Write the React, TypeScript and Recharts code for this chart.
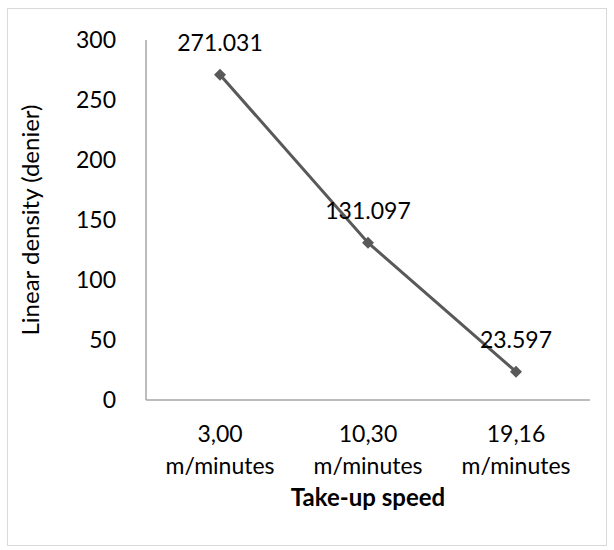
import React from 'react';
import { LineChart, Line, XAxis, YAxis, LabelList } from 'recharts';

const speeds = ['3,00', '10,30', '19,16'];
const speedUnit = 'm/minutes';
const density = [271.031, 131.097, 23.597];
const yTicks = [0, 50, 100, 150, 200, 250, 300];

const chartData = speeds.map((s, i) => ({ speed: s, density: density[i] }));

const FONT = 'Lato, "Open Sans", sans-serif';
const FS = 23;

const Diamond = (props: any) => {
  const { cx, cy } = props;
  if (cx == null || cy == null) return null;
  const r = 6;
  return (
    <polygon
      points={`${cx},${cy - r} ${cx + r},${cy} ${cx},${cy + r} ${cx - r},${cy}`}
      fill="#595959"
    />
  );
};

const SpeedTick = (props: any) => {
  const { x, y, payload } = props;
  return (
    <text x={x} y={y} textAnchor="middle" fontFamily={FONT} fontSize={FS} fill="#000">
      <tspan x={x} dy={34}>{payload.value}</tspan>
      <tspan x={x} dy={32}>{speedUnit}</tspan>
    </text>
  );
};

export default function App() {
  return (
    <div style={{ position: 'absolute', left: 0, top: 0, width: 614, height: 550, background: '#fff' }}>
      <div
        style={{
          position: 'absolute',
          left: 7,
          top: 8,
          width: 598,
          height: 536,
          border: '1px solid #d9d9d9',
        }}
      />
      <LineChart
        width={614}
        height={550}
        data={chartData}
        margin={{ top: 40, right: 24, left: 86, bottom: 70 }}
        style={{ position: 'absolute', left: 0, top: 0 }}
      >
        <XAxis
          dataKey="speed"
          tick={<SpeedTick />}
          tickLine={false}
          axisLine={{ stroke: '#a6a6a6', strokeWidth: 1.5 }}
          height={80}
          interval={0}
          padding={{ left: 74, right: 74 }}
          label={{
            value: 'Take-up speed',
            position: 'insideBottom',
            offset: -26,
            fontFamily: FONT,
            fontSize: 24,
            fontWeight: 'bold',
            fill: '#000',
          }}
        />
        <YAxis
          domain={[0, 300]}
          ticks={yTicks}
          width={60}
          tickLine={false}
          tickMargin={24}
          axisLine={{ stroke: '#a6a6a6', strokeWidth: 1.5 }}
          tick={{ fontFamily: FONT, fontSize: FS, fill: '#000' }}
          label={{
            value: 'Linear density (denier)',
            angle: -90,
            position: 'insideLeft',
            offset: -56,
            style: { textAnchor: 'middle' },
            fontFamily: FONT,
            fontSize: 24,
            fill: '#000',
          }}
        />
        <Line
          type="linear"
          dataKey="density"
          stroke="#595959"
          strokeWidth={3}
          dot={<Diamond />}
          activeDot={false}
          isAnimationActive={false}
        >
          <LabelList
            dataKey="density"
            position="top"
            offset={24}
            fontFamily={FONT}
            fontSize={FS}
            fill="#000"
            formatter={(v: any) => Number(v).toFixed(3)}
          />
        </Line>
      </LineChart>
    </div>
  );
}
